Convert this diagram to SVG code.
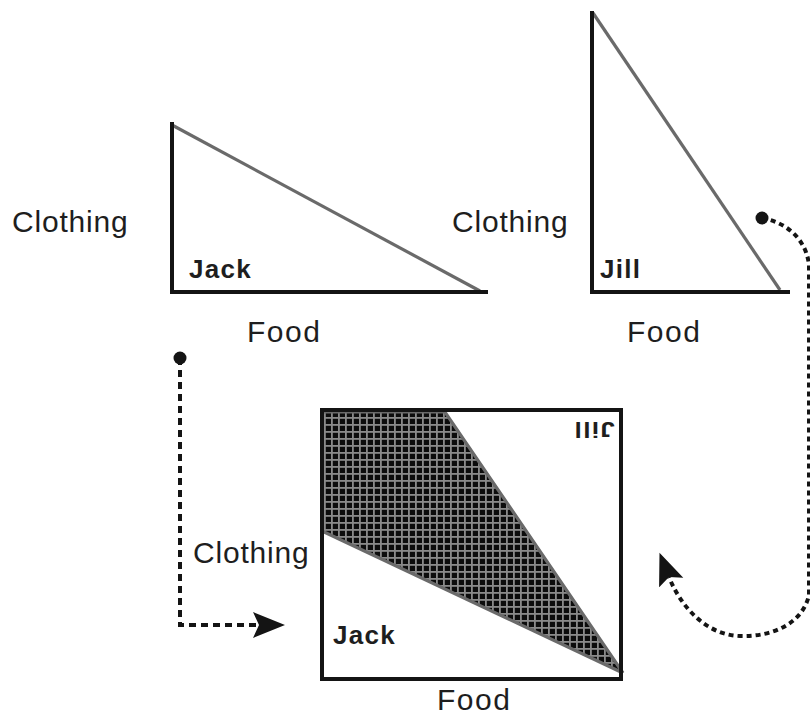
<svg xmlns="http://www.w3.org/2000/svg" width="810" height="715" viewBox="0 0 810 715">
<style>
.axis{fill:none;stroke:#141414;stroke-width:4;stroke-linecap:square}
.hyp{fill:none;stroke:#6a6a6a;stroke-width:3.2}
.lbl{font-family:"Liberation Sans",Arial,sans-serif;font-size:30px;fill:#1e1e1e;letter-spacing:1px}
.name{font-family:"Liberation Sans",Arial,sans-serif;font-size:26px;font-weight:bold;fill:#1e1e1e;letter-spacing:1.3px}
.conn{fill:none;stroke:#141414;stroke-width:4}
</style>
<defs>
<pattern id="grid" patternUnits="userSpaceOnUse" x="324" y="410" width="7" height="7">
<rect width="7" height="7" fill="#8a8a8a"/>
<rect x="1.8" y="1.8" width="5.2" height="5.2" fill="#0c0c0c"/>
</pattern>
<marker id="arrow" markerUnits="userSpaceOnUse" markerWidth="34" markerHeight="28" refX="6" refY="13" orient="auto">
<path d="M0,0 L32,13 L0,26 L6,13 Z" fill="#141414"/>
</marker>
<marker id="dot" markerUnits="userSpaceOnUse" markerWidth="16" markerHeight="16" refX="8" refY="8">
<circle cx="8" cy="8" r="6.5" fill="#141414"/>
</marker>
</defs>

<g id="jack">
<line class="hyp" x1="172" y1="125" x2="480" y2="291"/>
<polyline class="axis" points="172,124 172,292 486,292"/>
<text class="lbl" x="12" y="232" style="letter-spacing:0.8px">Clothing</text>
<text class="lbl" x="247" y="342" style="letter-spacing:1.5px">Food</text>
<text class="name" x="189" y="278">Jack</text>
</g>

<g id="jill">
<line class="hyp" x1="593" y1="13" x2="780" y2="290"/>
<polyline class="axis" points="592,13 592,292 788,292"/>
<text class="lbl" x="452" y="232" style="letter-spacing:0.8px">Clothing</text>
<text class="lbl" x="627" y="342" style="letter-spacing:1.5px">Food</text>
<text class="name" x="600" y="278">Jill</text>
</g>

<g id="combined">
<polygon points="323,412 445,412 622,672 323,531" fill="url(#grid)"/>
<polyline class="hyp" points="323,412 445,412 623,673"/>
<line class="hyp" x1="322" y1="531" x2="623" y2="673"/>
<rect class="axis" x="322" y="410" width="299" height="269"/>
<text class="lbl" x="193" y="563" style="letter-spacing:0.8px">Clothing</text>
<text class="lbl" x="437" y="710" style="letter-spacing:1.5px">Food</text>
<text class="name" x="333" y="644">Jack</text>
<text class="name" transform="translate(594,422) rotate(180) scale(1,0.88)" x="0" y="0" text-anchor="middle">Jill</text>
</g>

<g id="connectors">
<path class="conn" d="M180,358 V625 H259" stroke-dasharray="7 5" marker-start="url(#dot)" marker-end="url(#arrow)"/>
<path class="conn" d="M762,218 C785,222 806,238 809,265 L809,595 C803,622 775,637 740,636 C705,635 680,605 669,577" stroke-dasharray="5 4" marker-start="url(#dot)" marker-end="url(#arrow)"/>
</g>
</svg>
